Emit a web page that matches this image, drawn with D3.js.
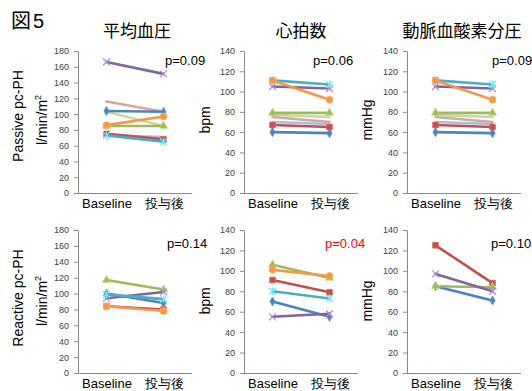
<!DOCTYPE html>
<html>
<head>
<meta charset="utf-8">
<script src="https://cdn.jsdelivr.net/npm/d3@7"></script>
<style>
  body { margin: 0; background: #fff; }
  svg { display: block; font-family: "Liberation Sans", "Noto Sans CJK JP", sans-serif; }
  .axis path, .axis line { stroke: #898989; }
  .yaxis text { font-size: 9px; fill: #404040; }
  .xaxis text { font-size: 13px; fill: #000; }
</style>
</head>
<body>
<div id="chart"></div>
<script>
// category labels
var categories = ["Baseline", "投与後"];

// values per patient: [baseline, after]
var passiveMAP  = [[104, 103], [75, 68], [85, 85], [166, 151], [73, 65], [86, 97], [73, 71], [116, 103], [103, 85]];
var passiveHR   = [[60, 59], [67, 65], [79, 79], [105, 103], [111, 107], [111, 92], [70, 68], [75, 70], [77, 75]];
var passivePaO2 = [[60, 59], [67, 65], [79, 79], [105, 103], [111, 107], [111, 92], [70, 68], [75, 70], [77, 75]];
var reactiveMAP  = [[100, 88], [84, 80], [117, 105], [94, 102], [99, 93], [84, 78]];
var reactiveHR   = [[70, 55], [91, 79], [106, 93], [55, 58], [80, 73], [101, 95]];
var reactivePaO2 = [[85, 71], [125, 88], [85, 84], [97, 80]];

var colTitles = ["平均血圧", "心拍数", "動脈血酸素分圧"];
var rowTitles = ["Passive pc-PH", "Reactive pc-PH"];
var yTitles = ["l/min/m", "bpm", "mmHg"];
var yMax = [180, 140, 140];
var pValues = [["p=0.09", "p=0.06", "p=0.09"], ["p=0.14", "p=0.04", "p=0.10"]];
var pSignificant = [[false, false, false], [false, true, false]];

// series styles (Excel-like palette)
var seriesColors = ["#4F81BD", "#C0504D", "#9BBB59", "#8064A2", "#4BACC6", "#F79646", "#A7BFDE", "#DCA3A2", "#C6D9A0"];
var seriesMarkers = ["diamond", "square", "triangle", "x", "star", "circle", null, null, null];

var panels = [
    [passiveMAP, passiveHR, passivePaO2],
    [reactiveMAP, reactiveHR, reactivePaO2]
];

var W = 532, H = 391;
var svg = d3.select("#chart").append("svg")
    .attr("width", W)
    .attr("height", H);

// layout
var colX = [78, 244, 407];
var plotW = 114;
var rowTop = [51, 230], rowBottom = [193, 373];
var titleX = [137, 301, 462];
var yTitleX = [47, 210, 372];
var pX = [[165, 313, 492], [167, 325, 491]];
var pY = [65, 248];

svg.append("text")
    .attr("x", 11).attr("y", 28)
    .attr("font-size", "20px")
    .attr("letter-spacing", "2px")
    .text("図5");

colTitles.forEach(function(t, i){
    svg.append("text")
        .attr("x", titleX[i]).attr("y", 37)
        .attr("text-anchor", "middle")
        .attr("font-size", "17px")
        .text(t);
});

rowTitles.forEach(function(t, r){
    var cy = r == 0 ? 116 : 298;
    svg.append("text")
        .attr("transform", "translate(23," + cy + ") rotate(-90)")
        .attr("text-anchor", "middle")
        .attr("font-size", "14px")
        .text(t);
});

function markerPath(type){
    if (type == "x") return "M-3.5,-3.5L3.5,3.5M-3.5,3.5L3.5,-3.5";
    if (type == "star") return "M-3.5,-3.5L3.5,3.5M-3.5,3.5L3.5,-3.5M0,-4L0,4";
    var sym = {diamond: d3.symbolDiamond, square: d3.symbolSquare, triangle: d3.symbolTriangle, circle: d3.symbolCircle}[type];
    var size = {diamond: 24, square: 32, triangle: 28, circle: 38}[type];
    return d3.symbol().type(sym).size(size)();
}

panels.forEach(function(row, r){
    row.forEach(function(data, c){
        var x = d3.scalePoint()
            .domain(categories)
            .range([colX[c], colX[c] + plotW])
            .padding(0.5);
        var y = d3.scaleLinear()
            .domain([0, yMax[c]])
            .range([rowBottom[r], rowTop[r]]);

        var g = svg.append("g");

        g.append("g")
            .attr("class", "axis yaxis")
            .attr("transform", "translate(" + colX[c] + ",0)")
            .call(d3.axisLeft(y).tickValues(d3.range(0, yMax[c] + 1, 20)).tickSize(4).tickPadding(5).tickSizeOuter(0));

        g.append("g")
            .attr("class", "axis xaxis")
            .attr("transform", "translate(0," + rowBottom[r] + ")")
            .call(d3.axisBottom(x).tickSize(0).tickPadding(6))
            .select(".domain").attr("d", "M" + colX[c] + ",0.5H" + (colX[c] + plotW));

        // y title
        var yt = g.append("text")
            .attr("transform", "translate(" + yTitleX[c] + "," + (r == 0 ? 120 : 301) + ") rotate(-90)")
            .attr("text-anchor", "middle")
            .attr("font-size", "14px")
            .text(yTitles[c]);
        if (c == 0) {
            yt.append("tspan").attr("font-size", "9px").attr("dy", "-6").text("2");
        }

        // p value
        g.append("text")
            .attr("x", pX[r][c]).attr("y", pY[r])
            .attr("font-size", "13px")
            .attr("fill", pSignificant[r][c] ? "#FF0000" : "#000")
            .text(pValues[r][c]);

        var line = d3.line()
            .x(function(d, i){ return x(categories[i]); })
            .y(function(d){ return y(d); });

        // light series first, then main ones on top
        var order = d3.range(data.length).sort(function(a, b){
            return (seriesMarkers[a] ? 1 : 0) - (seriesMarkers[b] ? 1 : 0);
        });

        order.forEach(function(s){
            var vals = data[s];
            var col = seriesColors[s];
            g.append("path")
                .attr("d", line(vals))
                .attr("fill", "none")
                .attr("stroke", col)
                .attr("stroke-width", 2.6)
                .attr("stroke-linecap", "round");

            var m = seriesMarkers[s];
            if (!m) return;
            vals.forEach(function(v, i){
                var mk = g.append("path")
                    .attr("transform", "translate(" + x(categories[i]) + "," + y(v) + ")")
                    .attr("d", markerPath(m));
                if (m == "x" || m == "star") {
                    mk.attr("fill", "none")
                      .attr("stroke", d3.color(col).brighter(0.9))
                      .attr("stroke-width", 1.2);
                } else {
                    mk.attr("fill", col)
                      .attr("stroke", d3.color(col).brighter(0.5))
                      .attr("stroke-width", 0.8);
                }
            });
        });
    });
});
</script>
</body>
</html>
